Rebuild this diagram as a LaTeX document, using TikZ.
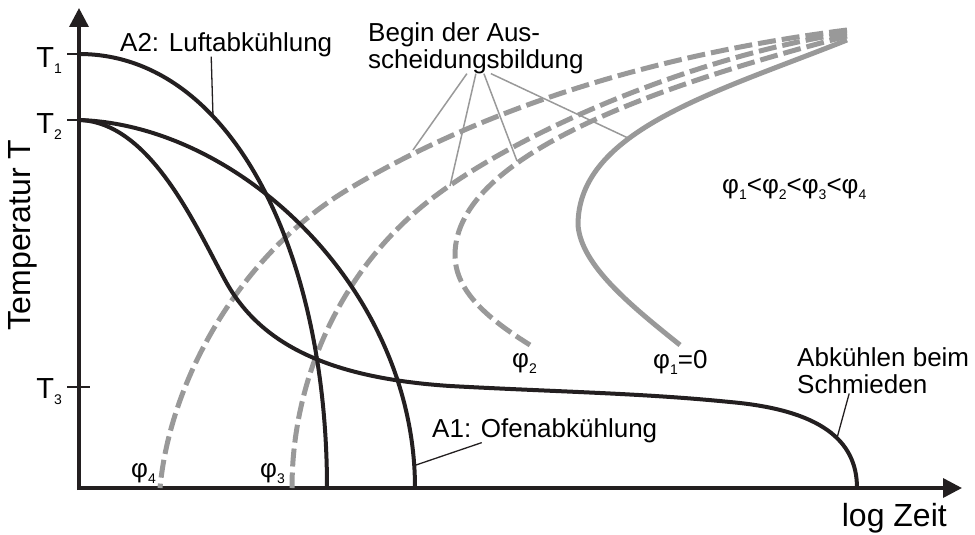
\documentclass[tikz,border=0pt]{standalone}
\usepackage{fontspec}
\setmainfont{Liberation Sans}
\usetikzlibrary{arrows.meta}

\definecolor{coolblack}{RGB}{35,31,32}
\definecolor{precgray}{RGB}{153,153,153}
\newcommand{\lowsub}[1]{\raisebox{-6pt}{\fontsize{14}{14}\selectfont #1}}
\newcommand{\labfont}{\fontsize{26}{27}\selectfont}

\begin{document}
\begin{tikzpicture}[x=1pt,y=-1pt,
   axis/.style={color=coolblack,line width=3.5pt,-{Triangle[length=19pt,width=19pt]}},
   tick/.style={color=coolblack,line width=2.5pt},
   cooling/.style={color=coolblack,line width=4pt},
   precip/.style={color=precgray,line width=5pt},
   precipdash/.style={precip,dash pattern=on 18pt off 6pt},
   leader/.style={color=coolblack,line width=1.3pt},
   gleader/.style={color=precgray,line width=1.5pt},
   lab/.style={inner sep=0pt,font=\labfont},
   axlab/.style={inner sep=0pt,font=\fontsize{32}{34}\selectfont}]

   \useasboundingbox (0,0) rectangle (975,535);

   % axes
   \coordinate (O) at (79,488);
   \draw[axis] (77,488) -- (962,488);
   \draw[axis] (79,490) -- (79,8);
   \node[axlab,anchor=north east] (xlab) at (947,503) {log Zeit};
   \node[axlab,rotate=90] (ylab) at (23,235) {Temperatur T};

   % temperatures
   \draw[tick] (67,54) -- (79,54);
   \draw[tick] (67,120) -- (79,120);
   \draw[tick] (67,387) -- (90,387);
   \node[lab,font=\fontsize{29}{29}\selectfont,anchor=base east] (t1) at (62,67) {T\lowsub{1}};
   \node[lab,font=\fontsize{29}{29}\selectfont,anchor=base east] (t2) at (62,133) {T\lowsub{2}};
   \node[lab,font=\fontsize{29}{29}\selectfont,anchor=base east] (t3) at (62,398) {T\lowsub{3}};

   % precipitation start curves
   \draw[precip] (847,40) .. controls (717,92) and (578,130) .. (578,225)
      .. controls (581,265) and (630,305) .. (680,345);
   \draw[precipdash] (847,36) .. controls (680,80) and (455,150) .. (455,255)
      .. controls (455,292) and (490,320) .. (530,345);
   \draw[precipdash] (847,33) .. controls (700,55) and (520,130) .. (430,200)
      .. controls (340,270) and (292,380) .. (292,488);
   \draw[precipdash] (847,30) .. controls (650,55) and (480,110) .. (347,190)
      .. controls (240,255) and (170,380) .. (160,488);

   % cooling curves
   \draw[cooling] (79,54) .. controls (230,54) and (327,250) .. (327,488);
   \draw[cooling] (79,120) .. controls (240,125) and (415,290) .. (415,488);
   \draw[cooling] (79,120) .. controls (150,122) and (195,225) .. (225,280)
      .. controls (260,345) and (330,378) .. (450,386)
      .. controls (560,392) and (640,393) .. (730,402)
      .. controls (820,410) and (857,440) .. (857,488);

   % labels
   \node[lab,anchor=north west] (a2lab) at (120,32) {A2: Luftabkühlung};
   \node[lab,anchor=north west] (a1lab) at (432,418) {A1: Ofenabkühlung};
   \node[lab,anchor=north west,align=left] (schmlab) at (797,347) {Abkühlen beim\\Schmieden};
   \node[lab,anchor=north west,align=left] (begin) at (368,22) {Begin der Aus-\\scheidungsbildung};
   \node[lab,anchor=base west] (phi4) at (131,477) {φ\lowsub{4}};
   \node[lab,anchor=base west] (phi3) at (260,477) {φ\lowsub{3}};
   \node[lab,anchor=base west] (phi2) at (512,367) {φ\lowsub{2}};
   \node[lab,anchor=base west] (phi1) at (653,368) {φ\lowsub{1}=0};
   \node[lab,anchor=base west] (order) at (722,193) {φ\lowsub{1}<φ\lowsub{2}<φ\lowsub{3}<φ\lowsub{4}};

   % leader lines
   \coordinate (a2pt) at (213,116);
   \coordinate (a1pt) at (416,465);
   \coordinate (schmpt) at (837,438);
   \coordinate (phi4pt) at (413,150);
   \coordinate (phi3pt) at (450,186);
   \coordinate (phi2pt) at (517,161);
   \coordinate (phi1pt) at (628,138);
   \draw[leader] ([xshift=-15pt]a2lab.south) -- (a2pt);
   \draw[leader] ([xshift=-63pt]a1lab.south) -- (a1pt);
   \draw[leader] ([xshift=-34pt]schmlab.south) -- (schmpt);
   \draw[gleader] ([xshift=-9pt]begin.south) -- (phi4pt);
   \draw[gleader] (begin.south) -- (phi3pt);
   \draw[gleader] ([xshift=8pt]begin.south) -- (phi2pt);
   \draw[gleader] ([xshift=15pt]begin.south) -- (phi1pt);

\end{tikzpicture}
\end{document}
